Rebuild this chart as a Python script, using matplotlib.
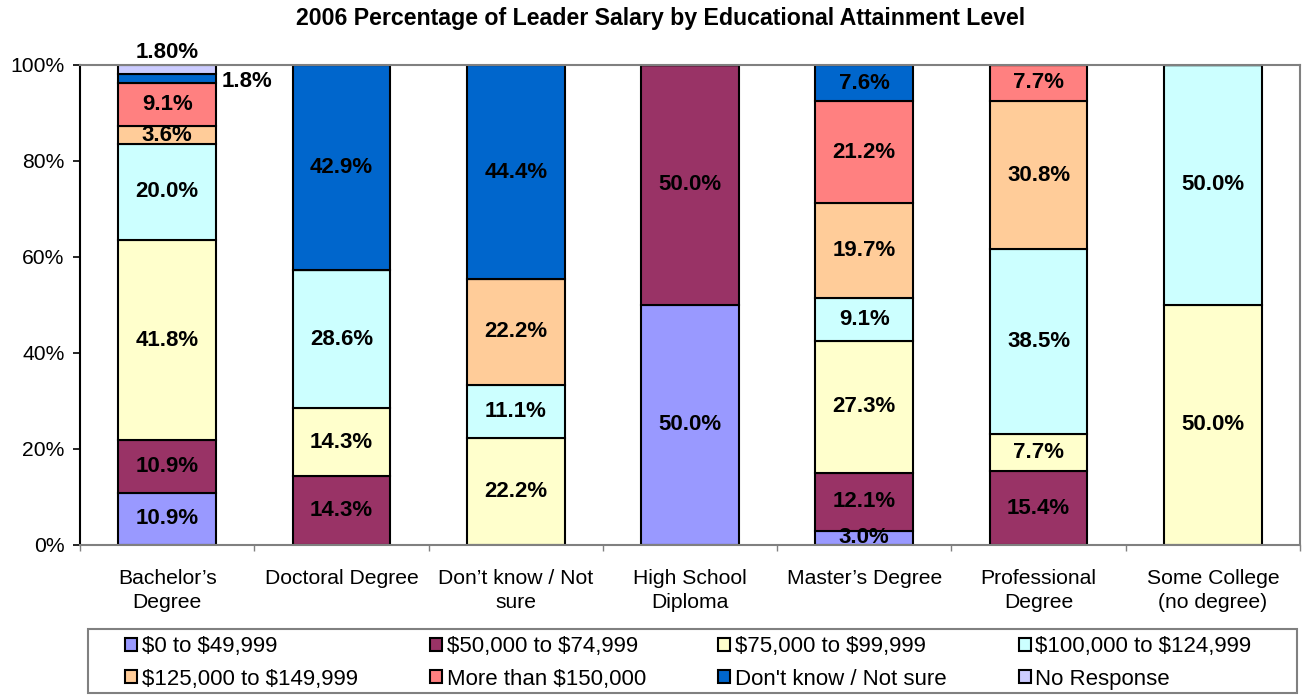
import numpy as np
import matplotlib
matplotlib.use("Agg")
import matplotlib.pyplot as plt
from matplotlib.patches import Rectangle
from matplotlib.ticker import FixedLocator

plt.rcParams['font.family'] = ['Liberation Sans', 'DejaVu Sans']
plt.rcParams['text.parse_math'] = False

# categories (education level)
categories = ["Bachelor\u2019s\nDegree", "Doctoral Degree", "Don\u2019t know / Not\nsure",
              "High School\nDiploma", "Master\u2019s Degree", "Professional\nDegree",
              "Some College\n(no degree)"]

# salary bands, bottom to top
series_names = ["$0 to $49,999", "$50,000 to $74,999", "$75,000 to $99,999",
                "$100,000 to $124,999", "$125,000 to $149,999", "More than $150,000",
                "Don't know / Not sure", "No Response"]

s0_49 = [10.9, 0, 0, 50.0, 3.0, 0, 0]
s50_74 = [10.9, 14.3, 0, 50.0, 12.1, 15.4, 0]
s75_99 = [41.8, 14.3, 22.2, 0, 27.3, 7.7, 50.0]
s100_124 = [20.0, 28.6, 11.1, 0, 9.1, 38.5, 50.0]
s125_149 = [3.6, 0, 22.2, 0, 19.7, 30.8, 0]
s150_plus = [9.1, 0, 0, 0, 21.2, 7.7, 0]
s_dontknow = [1.8, 42.9, 44.4, 0, 7.6, 0, 0]
s_noresp = [1.8, 0, 0, 0, 0, 0, 0]

colors = ["#9999FF", "#993366", "#FFFFCC", "#CCFFFF",
          "#FFCC99", "#FF8080", "#0066CC", "#CCCCFF"]

data = [s0_49, s50_74, s75_99, s100_124, s125_149, s150_plus, s_dontknow, s_noresp]

FS_LAB = 16      # value labels
FS_TICK = 15.2   # axis labels
FS_LEG = 16

fig = plt.figure(figsize=(13.02, 6.96), dpi=100)
ax = fig.add_axes([80 / 1302, 151 / 696, 1220 / 1302, 480 / 696])

x = np.arange(len(categories))
width = 0.56
bottom = np.zeros(len(categories))
handles = []
for name, vals, col in zip(series_names, data, colors):
    vals = np.array(vals, dtype=float)
    h = ax.bar(x, vals, width, bottom=bottom, color=col, edgecolor="black",
               linewidth=1.5, label=name)
    handles.append(h)
    for i, v in enumerate(vals):
        if v <= 0:
            continue
        if v < 2.5 and name == "No Response":
            # Excel put this one above the bar
            ax.text(x[i], 100.4, "%.2f%%" % v, ha="center", va="bottom",
                    fontsize=FS_LAB, fontweight="bold")
        elif v < 2.5:
            ax.text(x[i] + width / 2 + 0.03, bottom[i] + v / 2 - 0.6, "%.1f%%" % v,
                    ha="left", va="center", fontsize=FS_LAB, fontweight="bold")
        else:
            ax.text(x[i], bottom[i] + v / 2, "%.1f%%" % v, ha="center",
                    va="center", fontsize=FS_LAB, fontweight="bold")
    bottom += vals

ax.set_xlim(-0.5, len(categories) - 0.5)
ax.set_ylim(0, 100)
ax.set_yticks([0, 20, 40, 60, 80, 100])
ax.set_yticklabels(["0%", "20%", "40%", "60%", "80%", "100%"], fontsize=FS_TICK)
ax.set_xticks(x)
ax.set_xticklabels(categories, fontsize=FS_TICK, linespacing=1.38)
ax.xaxis.set_minor_locator(FixedLocator(np.arange(-0.5, len(categories), 1.0)))
ax.tick_params(axis="x", which="major", length=0, pad=17)
ax.tick_params(axis="x", which="minor", length=4, width=1, color="#808080")
ax.tick_params(axis="y", length=5, width=1.2, pad=6)

for side in ["top", "right", "bottom"]:
    ax.spines[side].set_color("#808080")
    ax.spines[side].set_linewidth(1.5)
ax.spines["left"].set_color("black")
ax.spines["left"].set_linewidth(1.5)

fig.text(661 / 1302, 1 - 19 / 696, "2006 Percentage of Leader Salary by Educational Attainment Level",
         ha="center", va="center", fontsize=16.7, fontweight="bold")

# legend box (Excel style, square gray frame)
fig.patches.append(Rectangle((88 / 1302, 3 / 696), 1209 / 1302, 64 / 696,
                             transform=fig.transFigure, facecolor="white",
                             edgecolor="#808080", linewidth=1.5, zorder=0))

# legend reads row by row in the reference: reorder for matplotlib's column fill
order = [0, 4, 1, 5, 2, 6, 3, 7]
leg = fig.legend([handles[k] for k in order], [series_names[k] for k in order],
                 loc="center left", bbox_to_anchor=(125 / 1302, 1 - 663 / 696),
                 ncol=4, fontsize=FS_LEG, frameon=False,
                 handlelength=0.55, handleheight=0.55, handletextpad=0.2,
                 columnspacing=3.25, borderaxespad=0, borderpad=0, labelspacing=0.5)

fig.savefig("out.png", dpi=100)
